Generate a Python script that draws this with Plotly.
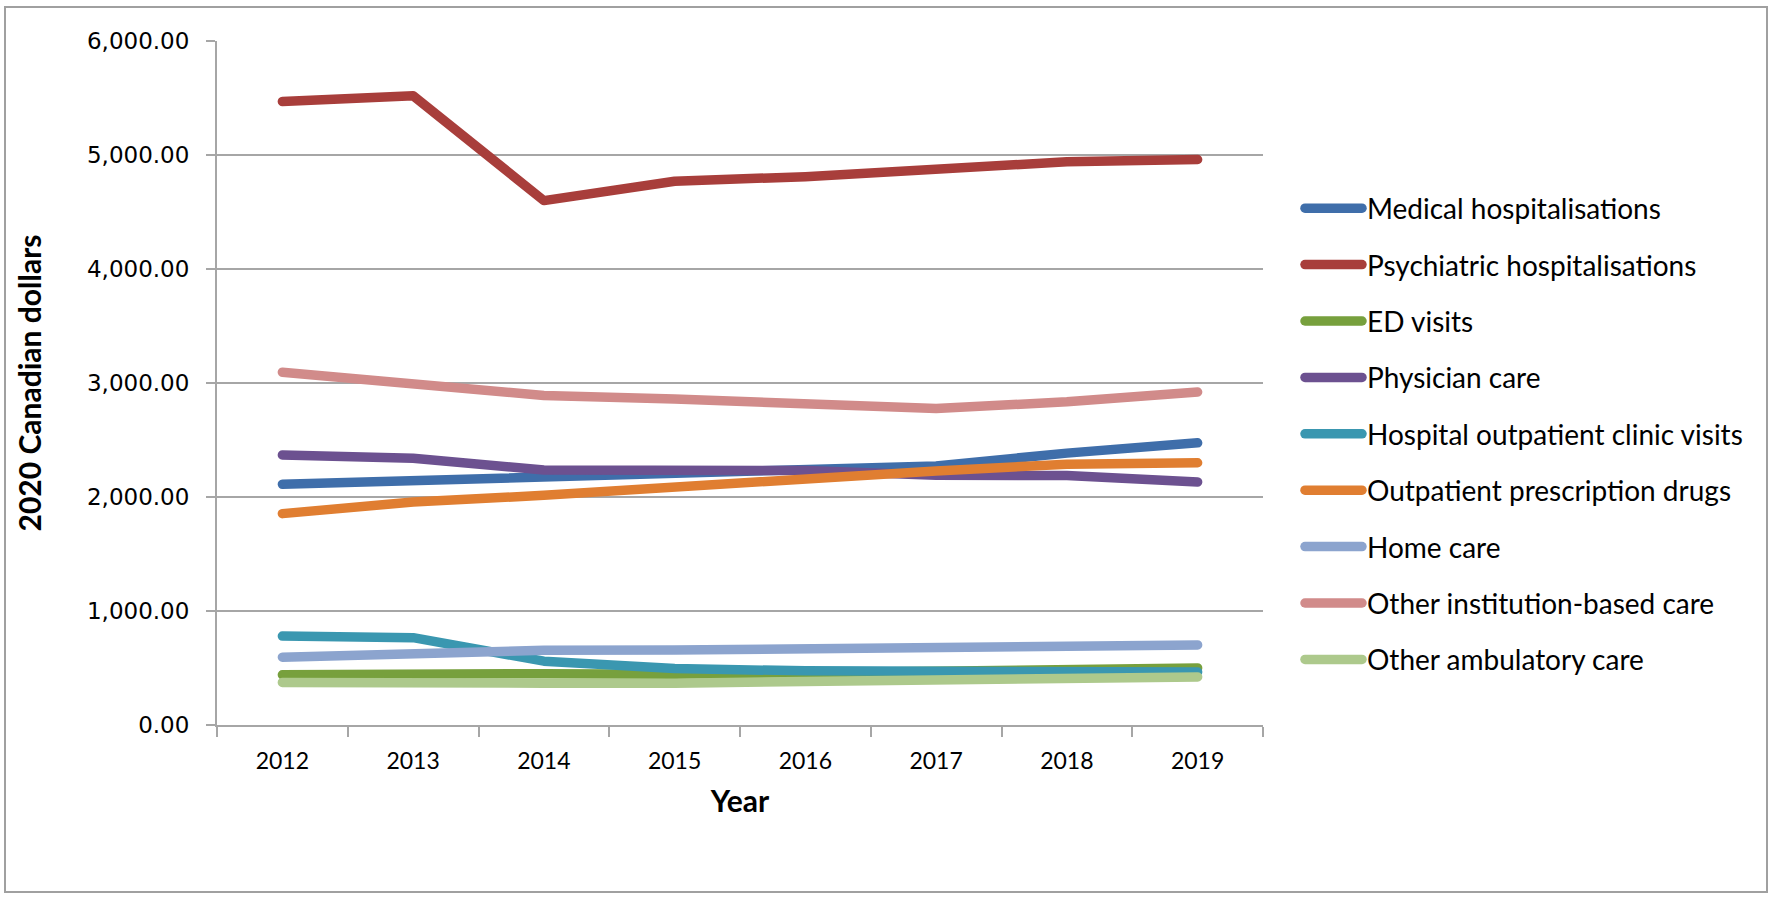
import plotly.graph_objects as go

years = ["2012", "2013", "2014", "2015", "2016", "2017", "2018", "2019"]

medical_hosp = [2112, 2141, 2180, 2195, 2230, 2272, 2385, 2475]
psychiatric_hosp = [5470, 5520, 4600, 4770, 4810, 4880, 4940, 4960]
ed_visits = [440, 455, 450, 445, 455, 470, 485, 500]
physician_care = [2368, 2339, 2237, 2237, 2232, 2190, 2188, 2132]
hospital_outpatient = [780, 766, 560, 495, 475, 472, 480, 465]
outpatient_drugs = [1854, 1956, 2015, 2087, 2170, 2229, 2287, 2300]
home_care = [595, 627, 655, 658, 672, 693, 702, 702]
other_institution = [3095, 3000, 2890, 2860, 2811, 2776, 2835, 2921]
other_ambulatory = [373, 378, 367, 367, 378, 387, 402, 422]

series_names = [
    "Medical hospitalisations",
    "Psychiatric hospitalisations",
    "ED visits",
    "Physician care",
    "Hospital outpatient clinic visits",
    "Outpatient prescription drugs",
    "Home care",
    "Other institution-based care",
    "Other ambulatory care",
]
series_values = [
    medical_hosp, psychiatric_hosp, ed_visits, physician_care,
    hospital_outpatient, outpatient_drugs, home_care,
    other_institution, other_ambulatory,
]
series_colors = [
    "#3F6EAA", "#A83E3B", "#77A03D", "#6C5190", "#3A97B0",
    "#E07E31", "#8CA4CE", "#D18B8A", "#ADC98C",
]

W, H = 1772, 897
PL, PR, PT, PB = 217, 1263, 41, 725

fig = go.Figure()
for i, (name, vals, col) in enumerate(zip(series_names, series_values, series_colors)):
    fig.add_trace(go.Scatter(
        x=years, y=vals, name=name, mode="lines",
        line=dict(color=col, width=9.5),
        legendgroup=f"g{i}",
    ))

grid_col = "#A6A6A6"
label_font = "Lato, 'Open Sans', sans-serif"

fig.update_layout(
    width=W, height=H,
    margin=dict(l=PL, r=W - PR, t=PT, b=H - PB, autoexpand=False),
    paper_bgcolor="white", plot_bgcolor="white",
    showlegend=True,
    legend=dict(
        x=(1300 - PL) / (PR - PL), xanchor="left",
        y=0.5 - (434 - (PT + PB) / 2) / (PB - PT), yanchor="middle",
        yref="paper",
        font=dict(family=label_font, size=28, color="#000000"),
        traceorder="grouped", tracegroupgap=17,
        itemwidth=57,
        bgcolor="rgba(0,0,0,0)",
    ),
    xaxis=dict(
        type="category", range=[-0.5, 7.5],
        showline=True, linecolor=grid_col, linewidth=2,
        ticks="outside", tickson="boundaries", ticklen=10,
        tickcolor=grid_col, tickwidth=2,
        showgrid=False, zeroline=False,
        tickfont=dict(family=label_font, size=23, color="#000000"),
        ticklabelstandoff=14,
        title=dict(text="<b>Year</b>", font=dict(family=label_font, size=30, color="#000000"), standoff=18),
    ),
    yaxis=dict(
        range=[0, 6000], dtick=1000, tick0=0,
        tickformat=",.2f",
        showline=True, linecolor=grid_col, linewidth=2,
        ticks="outside", ticklen=9, tickcolor=grid_col, tickwidth=2,
        showgrid=True, gridcolor=grid_col, gridwidth=2,
        zeroline=False,
        tickfont=dict(family="'DejaVu Sans', Verdana, sans-serif", size=23, color="#000000"),
        ticklabelstandoff=12,
        title=dict(text="<b>2020 Canadian dollars</b>", font=dict(family=label_font, size=30, color="#000000"), standoff=36),
    ),
)

# outer chart border
fig.add_shape(
    type="rect", xref="paper", yref="paper",
    x0=(5 - PL) / (PR - PL), x1=(1767 - PL) / (PR - PL),
    y0=(PB - 892) / (PB - PT), y1=(PB - 7) / (PB - PT),
    line=dict(color="#A0A0A0", width=2), fillcolor="rgba(0,0,0,0)", layer="below",
)

post = """
document.body.style.margin='0';
document.querySelectorAll('path.js-line, .legendlines path').forEach(function(p){
  p.style.strokeLinecap='round'; p.style.strokeLinejoin='round';
});
"""

fig.write_html("out.html", post_script=post, config={"displayModeBar": False})
